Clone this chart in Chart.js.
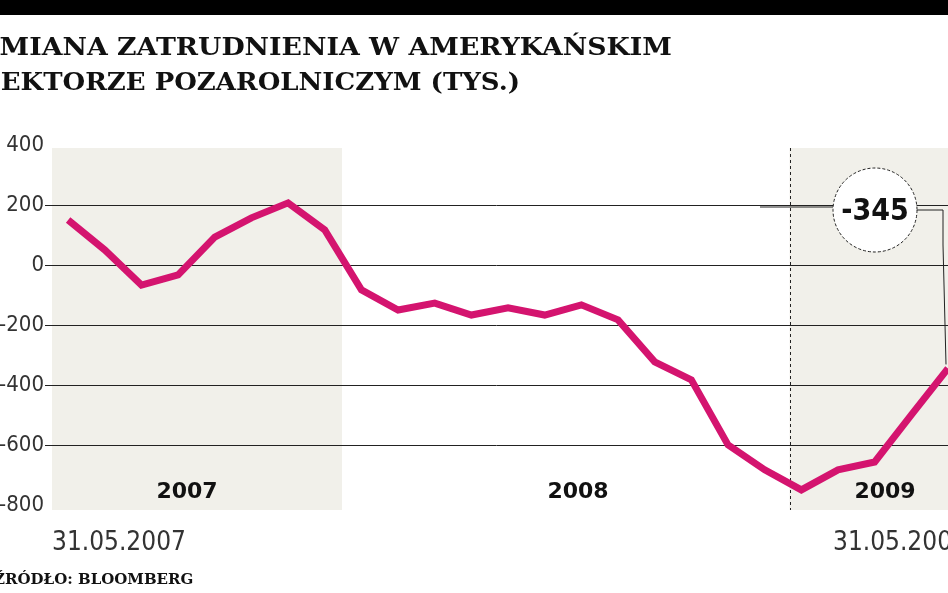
<!DOCTYPE html><html><head><meta charset="utf-8">
<script src="https://cdn.jsdelivr.net/npm/chart.js@4"></script>
<style>html,body{margin:0;padding:0;background:#fff;overflow:hidden}canvas{display:block}</style></head><body>
<div style="width:948px;height:593px"><canvas id="c"></canvas></div>
<script>
const months=['05.07','06.07','07.07','08.07','09.07','10.07','11.07','12.07','01.08','02.08','03.08','04.08','05.08','06.08','07.08','08.08','09.08','10.08','11.08','12.08','01.09','02.09','03.09','04.09','05.09'];
const values=[150,50,-67,-33,93,157,207,117,-83,-150,-127,-167,-143,-167,-133,-183,-323,-383,-600,-683,-750,-683,-657,-500,-345];
const yTicks=[400,200,0,-200,-400,-600,-800];
const gridVals=[200,0,-200,-400,-600];
const pink='#d4146f';
const decoPlugin={id:'deco',
beforeDatasetsDraw(ch){const c=ch.ctx,x=ch.scales.x,y=ch.scales.y,a=ch.chartArea;
 c.save();c.fillStyle='#f1f0ea';
 c.fillRect(x.getPixelForValue(-0.44),a.top,x.getPixelForValue(7.47)-x.getPixelForValue(-0.44),a.bottom-a.top);
 c.fillRect(x.getPixelForValue(19.68),a.top,948,a.bottom-a.top);
 c.strokeStyle='#222';c.lineWidth=1;
 gridVals.forEach(v=>{const py=Math.round(y.getPixelForValue(v))+0.5;c.beginPath();c.moveTo(45,py);c.lineTo(948,py);c.stroke();});
 c.setLineDash([3,3]);const dx=Math.round(x.getPixelForValue(19.68))+0.5;c.beginPath();c.moveTo(dx,a.top);c.lineTo(dx,a.bottom);c.stroke();c.setLineDash([]);
 c.fillStyle='#333';c.font='22px "Liberation Sans Narrow","DejaVu Sans Condensed",sans-serif';c.textBaseline='middle';c.textAlign='right';
 yTicks.forEach(v=>c.fillText(String(v),44,y.getPixelForValue(v)));
 c.fillStyle='#111';c.font='bold 22px "DejaVu Sans",sans-serif';c.textAlign='center';
 c.fillText('2007',187,492);c.fillText('2008',578,492);c.fillText('2009',885,492);
 c.fillStyle='#333';c.font='26px "Liberation Sans Narrow","DejaVu Sans Condensed",sans-serif';c.textAlign='left';
 c.fillText('31.05.2007',52,543);c.fillText('31.05.2009',833,543);
 c.restore();},
afterDatasetsDraw(ch){const c=ch.ctx,m=ch.getDatasetMeta(0).data[24];c.save();
 c.strokeStyle='#222';c.lineWidth=1;c.beginPath();c.moveTo(917,210);c.lineTo(943,210);c.lineTo(943,245);c.lineTo(m.x-2,m.y-4);c.stroke();
 c.beginPath();c.moveTo(760,207);c.lineTo(833,207);c.stroke();
 c.fillStyle='#fff';c.setLineDash([3,2]);c.beginPath();c.arc(875,210,42,0,Math.PI*2);c.fill();c.stroke();c.setLineDash([]);
 c.fillStyle='#111';c.font='bold 30px "DejaVu Sans Condensed",sans-serif';c.textAlign='center';c.textBaseline='middle';c.fillText('-345',875,212);
 c.restore();}};
const headPlugin={id:'head',afterDraw(ch){const c=ch.ctx;c.save();c.fillStyle='#000';c.fillRect(0,0,948,15);
 c.fillStyle='#111';c.textBaseline='alphabetic';c.font='bold 24px "DejaVu Serif",serif';
 function fit(t,x0,x1,y){const w=c.measureText(t).width;c.save();c.translate(x0,y);c.scale((x1-x0)/w,1);c.fillText(t,0,0);c.restore();}
 fit('ZMIANA ZATRUDNIENIA W AMERYKAŃSKIM',-20,672,55);
 fit('SEKTORZE POZAROLNICZYM (TYS.)',-18,520,90);
 c.font='bold 15px "DejaVu Serif",serif';c.fillText('ŹRÓDŁO: BLOOMBERG',-6,584);
 c.restore();}};
new Chart(document.getElementById('c'),{type:'line',
data:{labels:months,datasets:[{data:values.map((v,i)=>({x:i,y:v})),borderColor:pink,borderWidth:7,pointRadius:0,tension:0,clip:false}]},
options:{responsive:true,maintainAspectRatio:false,animation:false,
 layout:{padding:{left:52,right:0,top:148,bottom:83}},
 plugins:{legend:{display:false},tooltip:{enabled:false}},
 scales:{x:{type:'linear',min:-0.44,max:24,display:false},y:{min:-817,max:390,display:false}}},
plugins:[decoPlugin,headPlugin]});
</script></body></html>
